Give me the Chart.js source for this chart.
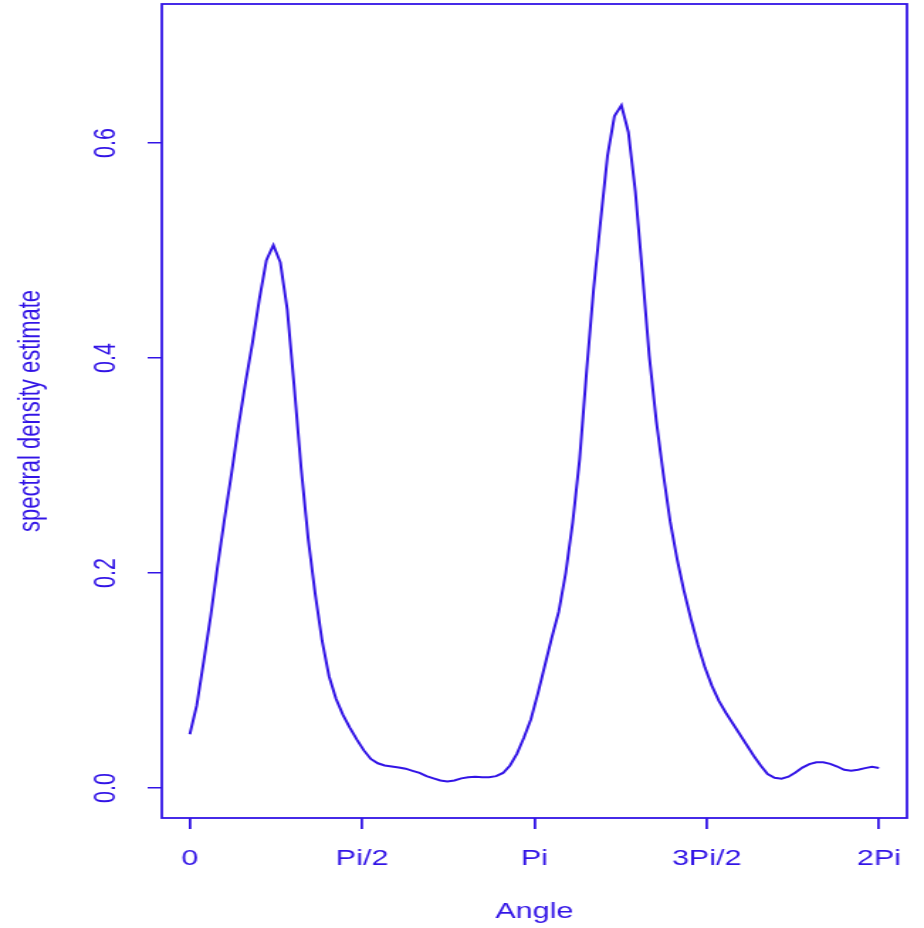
<!DOCTYPE html>
<html>
<head>
<meta charset="utf-8">
<script src="https://cdn.jsdelivr.net/npm/chart.js@4.4.1/dist/chart.umd.min.js"></script>
<style>
  html, body { margin: 0; padding: 0; background: #ffffff; overflow: hidden; }
  #wrap { width: 651px; height: 928px; transform: scale(1.41935, 1); transform-origin: 0 0; }
  canvas { display: block; }
</style>
</head>
<body>
<div id="wrap"><canvas id="c" width="651" height="928"></canvas></div>
<script>
// Spectral density estimate, 100 points from 0 to 2*Pi
const density = [
  0.050, 0.077, 0.118, 0.160, 0.207, 0.251, 0.293, 0.337, 0.377, 0.414,
  0.455, 0.491, 0.505, 0.489, 0.445, 0.373, 0.297, 0.232, 0.181, 0.137,
  0.104, 0.083, 0.068, 0.056, 0.045, 0.035, 0.027, 0.023, 0.021, 0.020,
  0.019, 0.018, 0.016, 0.014, 0.011, 0.009, 0.007, 0.006, 0.007, 0.009,
  0.010, 0.0105, 0.010, 0.010, 0.011, 0.014, 0.021, 0.032, 0.047, 0.064,
  0.088, 0.114, 0.140, 0.164, 0.200, 0.247, 0.306, 0.388, 0.464, 0.527,
  0.588, 0.625, 0.635, 0.610, 0.555, 0.480, 0.402, 0.342, 0.293, 0.248,
  0.213, 0.183, 0.157, 0.133, 0.112, 0.095, 0.081, 0.070, 0.060, 0.050,
  0.040, 0.030, 0.021, 0.013, 0.0095, 0.0087, 0.0105, 0.0145, 0.019, 0.0222,
  0.024, 0.024, 0.0225, 0.020, 0.017, 0.016, 0.017, 0.0185, 0.0197, 0.0186
];
const angleStep = 2 * Math.PI / (density.length - 1);
const angles = density.map((_, k) => k * angleStep);

const xTickValues = [0, Math.PI / 2, Math.PI, 3 * Math.PI / 2, 2 * Math.PI];
const xTickLabels = ['0', 'Pi/2', 'Pi', '3Pi/2', '2Pi'];
const yTickValues = [0, 0.2, 0.4, 0.6];
const yTickLabels = ['0.0', '0.2', '0.4', '0.6'];

const xTitle = 'Angle';
const yTitle = 'spectral density estimate';

const INK = '#3214e6';
const FONT = { family: '"Liberation Sans", Arial, sans-serif', size: 21.5, weight: 'normal' };
const TITLE_FONT = { family: '"Liberation Sans", Arial, sans-serif', size: 22, weight: 'normal' };

const boxPlugin = {
  id: 'box',
  afterDatasetsDraw(chart) {
    const a = chart.chartArea;
    const ctx = chart.ctx;
    ctx.save();
    ctx.strokeStyle = INK;
    ctx.lineWidth = 1.8;
    ctx.strokeRect(a.left, a.top, a.right - a.left, a.bottom - a.top);
    ctx.restore();
  }
};

new Chart(document.getElementById('c'), {
  type: 'line',
  data: {
    datasets: [{
      data: angles.map((a, i) => ({ x: a, y: density[i] })),
      borderColor: INK,
      borderWidth: 2,
      pointRadius: 0,
      tension: 0,
      fill: false
    }]
  },
  options: {
    responsive: false,
    animation: false,
    devicePixelRatio: 1,
    layout: { padding: { top: 4, right: 12, bottom: 0, left: 0 } },
    plugins: { legend: { display: false }, tooltip: { enabled: false } },
    scales: {
      x: {
        type: 'linear',
        min: -0.2553,
        max: 6.5385,
        afterFit(scale) {
          scale.height = 110;
          scale.paddingLeft = 0; scale.paddingRight = 0;
        },
        afterBuildTicks(scale) { scale.ticks = xTickValues.map(v => ({ value: v })); },
        border: { display: false },
        grid: { drawOnChartArea: false, drawTicks: true, tickLength: 11, color: INK, lineWidth: 1.8 },
        ticks: {
          color: INK, font: FONT, padding: 17, maxRotation: 0, autoSkip: false,
          callback(value, index) { return xTickLabels[index]; }
        },
        title: { display: true, text: xTitle, color: INK, font: FONT, padding: { top: 3, bottom: 3 } }
      },
      y: {
        type: 'linear',
        min: -0.0279,
        max: 0.7293,
        afterFit(scale) {
          scale.width = 114;
          scale.paddingTop = 0; scale.paddingBottom = 0;
        },
        afterBuildTicks(scale) { scale.ticks = yTickValues.map(v => ({ value: v })); },
        border: { display: false },
        grid: { drawOnChartArea: false, drawTicks: true, tickLength: 10, color: INK, lineWidth: 1.5 },
        ticks: {
          color: INK, font: FONT, padding: 14, minRotation: 90, maxRotation: 90,
          crossAlign: 'center', autoSkip: false,
          callback(value, index) { return yTickLabels[index]; }
        },
        title: { display: true, text: yTitle, color: INK, font: TITLE_FONT, padding: { top: 9, bottom: 9 } }
      }
    }
  },
  plugins: [boxPlugin]
});
</script>
</body>
</html>
